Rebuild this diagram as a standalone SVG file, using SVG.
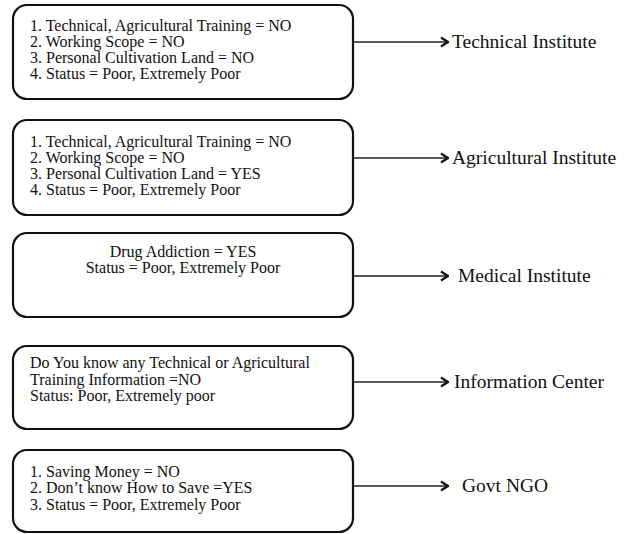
<svg xmlns="http://www.w3.org/2000/svg" width="637" height="534" viewBox="0 0 637 534">
<style>
.box{fill:#fff;stroke:#111;stroke-width:2.2}
.t{font-family:"Liberation Serif","Times New Roman",serif;font-size:16px;fill:#111}
.lbl{font-family:"Liberation Serif","Times New Roman",serif;font-size:19.5px;fill:#111}
.c{stroke:#222;stroke-width:1.6;fill:none}
</style>
<defs>
<marker id="ah" viewBox="0 0 10 12" refX="9" refY="6" markerWidth="10" markerHeight="12" markerUnits="userSpaceOnUse" orient="auto">
<path d="M2,1.5 L9,6 L2,10.5" fill="none" stroke="#111" stroke-width="2.2"/>
</marker>
</defs>
<rect width="637" height="534" fill="#fff"/>
<g id="connectors">
<line class="c" x1="353" y1="42" x2="448" y2="42" marker-end="url(#ah)"/>
<line class="c" x1="353" y1="158" x2="448" y2="158" marker-end="url(#ah)"/>
<line class="c" x1="353" y1="276" x2="448" y2="276" marker-end="url(#ah)"/>
<line class="c" x1="353" y1="382" x2="448" y2="382" marker-end="url(#ah)"/>
<line class="c" x1="353" y1="486" x2="448" y2="486" marker-end="url(#ah)"/>
</g>
<g id="box1">
<rect class="box" x="13" y="5" width="340" height="94" rx="14"/>
<text class="t" x="30" y="31">1. Technical, Agricultural Training = NO</text>
<text class="t" x="30" y="47">2. Working Scope = NO</text>
<text class="t" x="30" y="63">3. Personal Cultivation Land = NO</text>
<text class="t" x="30" y="79">4. Status = Poor, Extremely Poor</text>
</g>
<g id="box2">
<rect class="box" x="13" y="120" width="340" height="95" rx="14"/>
<text class="t" x="30" y="147">1. Technical, Agricultural Training = NO</text>
<text class="t" x="30" y="163">2. Working Scope = NO</text>
<text class="t" x="30" y="179">3. Personal Cultivation Land = YES</text>
<text class="t" x="30" y="195">4. Status = Poor, Extremely Poor</text>
</g>
<g id="box3">
<rect class="box" x="13" y="233" width="340" height="84" rx="14"/>
<text class="t" x="183" y="257" text-anchor="middle">Drug Addiction = YES</text>
<text class="t" x="183" y="273" text-anchor="middle">Status = Poor, Extremely Poor</text>
</g>
<g id="box4">
<rect class="box" x="13" y="346" width="340" height="83" rx="14"/>
<text class="t" x="30" y="368">Do You know any Technical or Agricultural</text>
<text class="t" x="30" y="385">Training Information =NO</text>
<text class="t" x="30" y="401">Status: Poor, Extremely poor</text>
</g>
<g id="box5">
<rect class="box" x="13" y="450" width="340" height="82" rx="14"/>
<text class="t" x="30" y="477">1. Saving Money = NO</text>
<text class="t" x="30" y="493">2. Don’t know How to Save =YES</text>
<text class="t" x="30" y="510">3. Status = Poor, Extremely Poor</text>
</g>
<g id="targets">
<text class="lbl" x="452" y="48">Technical Institute</text>
<text class="lbl" x="452" y="164">Agricultural Institute</text>
<text class="lbl" x="458" y="282">Medical Institute</text>
<text class="lbl" x="454" y="388">Information Center</text>
<text class="lbl" x="462" y="492">Govt NGO</text>
</g>
</svg>
